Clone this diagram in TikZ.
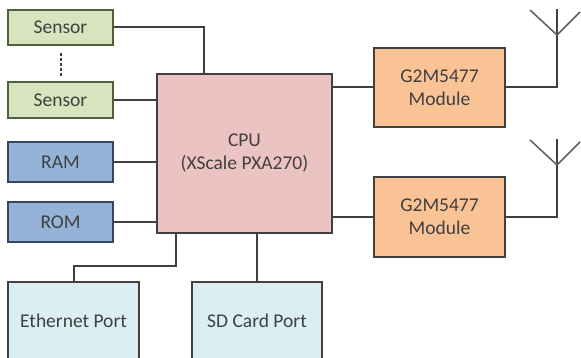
\documentclass[tikz,border=0pt]{standalone}
\usepackage{fontspec}
\setmainfont{Carlito}
\usetikzlibrary{calc}
\definecolor{sensfill}{RGB}{215,228,189}
\definecolor{sensdraw}{RGB}{80,95,60}
\definecolor{memfill}{RGB}{149,179,215}
\definecolor{memdraw}{RGB}{55,70,95}
\definecolor{cpufill}{RGB}{235,195,195}
\definecolor{modfill}{RGB}{250,195,150}
\definecolor{portfill}{RGB}{218,238,243}
\definecolor{edge}{RGB}{64,64,64}
\definecolor{txt}{RGB}{64,64,64}
\begin{document}
\begin{tikzpicture}[x=1pt,y=-1pt,
  box/.style={draw=edge,line width=2pt,inner sep=0pt,align=center,text=txt,
    font=\fontsize{19.5}{23}\selectfont},
  sensbox/.style={box,fill=sensfill,draw=sensdraw,minimum width=105pt},
  membox/.style={box,fill=memfill,draw=memdraw,minimum width=105pt,minimum height=40pt},
  conn/.style={draw=edge,line width=2pt}]
\clip (0,0) rectangle (581,358);
\fill[white] (0,0) rectangle (581,358);
\node[sensbox,minimum height=35pt] (s1) at (60.5,27.5) {Sensor};
\node[sensbox,minimum height=36pt] (s2) at (60.5,100) {Sensor};
\node[membox] (ram) at (60.5,162) {RAM};
\node[membox] (rom) at (60.5,222) {ROM};
\node[box,fill=cpufill,minimum width=175pt,minimum height=159pt] (cpu) at (244.5,153.5) {CPU\\(XScale PXA270)};
\node[box,fill=modfill,minimum width=131pt,minimum height=79pt] (m1) at (439.5,87.5) {G2M5477\\Module};
\node[box,fill=modfill,minimum width=131pt,minimum height=80pt] (m2) at (439.5,217) {G2M5477\\Module};
\node[box,fill=portfill,minimum width=131pt,minimum height=78pt] (eth) at (73.5,321) {Ethernet Port};
\node[box,fill=portfill,minimum width=130pt,minimum height=78pt] (sd) at (257,321) {SD Card Port};
% connectors
\coordinate (s1in) at (204,74);
\draw[conn] (s1.east) -| (s1in);
\draw[conn] (s2.east) -- (s2.east -| cpu.west);
\draw[conn] (ram.east) -- (ram.east -| cpu.west);
\draw[conn] (rom.east) -- (rom.east -| cpu.west);
\coordinate (ethout) at (176,233);
\draw[conn] (ethout) |- ($(eth.north)+(0,-15)$) -- (eth.north);
\draw[conn] (sd.north) -- (sd.north |- cpu.south);
\draw[conn] (cpu.east |- m1.west) -- (m1.west);
\draw[conn] (cpu.east |- m2.west) -- (m2.west);
% dotted
\coordinate (d1) at (61,53);
\coordinate (d2) at (61,77);
\draw[draw=edge,line width=2.4pt,dash pattern=on 3pt off 2pt] (d1) -- (d2);
% antennas
\coordinate (a1) at (557,35);
\coordinate (a2) at (557,165);
\draw[conn] (m1.east) -| (a1) -- (557,9);
\draw[conn] (m2.east) -| (a2) -- (557,139);
\draw[draw=edge!85,line width=1.5pt] (530,10) -- (a1) -- (580,12);
\draw[draw=edge!85,line width=1.5pt] (530,140) -- (a2) -- (580,142);
\end{tikzpicture}
\end{document}
